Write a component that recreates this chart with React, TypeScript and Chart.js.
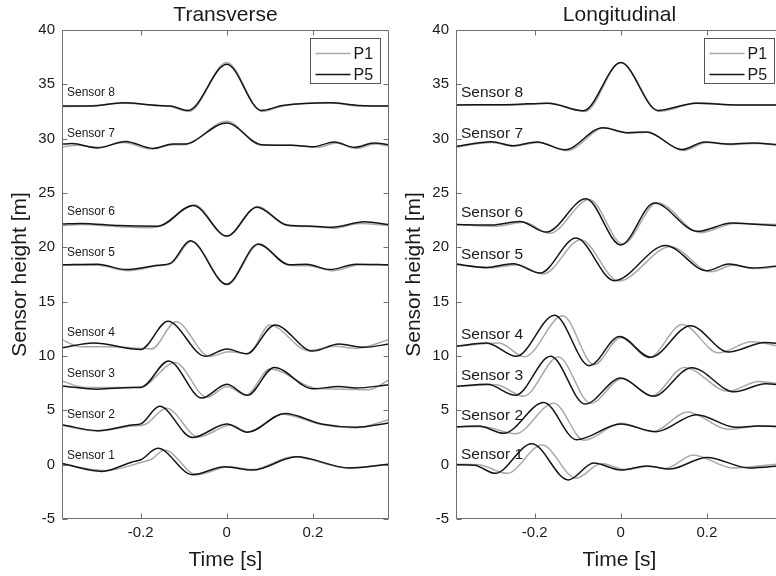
import React, { useEffect, useRef } from 'react';
import { Chart, registerables } from 'chart.js';

Chart.register(...registerables);

type Pt = [number, number];

// ---------- axes / categories ----------
const T_MIN = -0.383;
const T_MAX = 0.377;
const Y_MIN = -5;
const Y_MAX = 40;
const X_TICKS = [-0.2, 0, 0.2];
const Y_TICKS = [-5, 0, 5, 10, 15, 20, 25, 30, 35, 40];
const SERIES = ['P1', 'P5'];
const SERIES_COLORS = ['#a9a9a9', '#151515'];
const SENSOR_NAMES = ['Sensor 1', 'Sensor 2', 'Sensor 3', 'Sensor 4', 'Sensor 5', 'Sensor 6', 'Sensor 7', 'Sensor 8'];
const TRANS_LABEL_Y = [0.8, 4.6, 8.4, 12.1, 19.5, 23.3, 30.5, 34.2];
const LONG_LABEL_Y = [0.9, 4.5, 8.2, 12.0, 19.3, 23.2, 30.45, 34.2];

// ---------- Transverse, P1 ----------
const tS1P1: Pt[] = [[-0.383, 0.05], [-0.28, -0.55], [-0.2, 0.2], [-0.175, 0.5], [-0.145, 1.35], [-0.07, -0.92], [0.005, -0.2], [0.06, -0.45], [0.155, 0.72], [0.28, -0.3], [0.377, 0.05]];
const tS2P1: Pt[] = [[-0.383, 3.6], [-0.3, 3.1], [-0.22, 3.55], [-0.19, 3.7], [-0.14, 5.2], [-0.066, 2.55], [0.01, 3.65], [0.05, 3.0], [0.128, 4.65], [0.22, 3.7], [0.3, 3.4], [0.377, 4.14]];
const tS3P1: Pt[] = [[-0.383, 7.7], [-0.33, 7.1], [-0.26, 7.1], [-0.2, 7.15], [-0.12, 9.4], [-0.046, 6.2], [0, 7.2], [0.045, 6.4], [0.1, 8.8], [0.21, 7.0], [0.27, 6.95], [0.33, 6.9], [0.377, 7.8]];
const tS4P1: Pt[] = [[-0.383, 11.5], [-0.34, 10.85], [-0.27, 10.85], [-0.2, 10.7], [-0.175, 10.65], [-0.118, 13.15], [-0.04, 9.95], [0.005, 10.4], [0.05, 10.2], [0.1, 12.85], [0.19, 10.5], [0.25, 10.9], [0.3, 10.7], [0.377, 11.5]];
const tS5P1: Pt[] = [[-0.383, 18.35], [-0.3, 18.35], [-0.23, 17.85], [-0.16, 18.3], [-0.13, 18.5], [-0.082, 20.55], [0, 16.55], [0.075, 20.25], [0.145, 18.35], [0.19, 18.3], [0.245, 17.85], [0.31, 18.4], [0.377, 18.35]];
const tS6P1: Pt[] = [[-0.383, 22.0], [-0.34, 22.1], [-0.25, 21.9], [-0.19, 21.8], [-0.16, 21.9], [-0.075, 23.9], [0, 21.0], [0.072, 23.75], [0.14, 22.0], [0.2, 21.9], [0.25, 21.75], [0.31, 22.2], [0.377, 22.0]];
const tS7P1: Pt[] = [[-0.383, 29.25], [-0.35, 29.4], [-0.3, 29.2], [-0.24, 29.65], [-0.175, 29.05], [-0.125, 29.45], [-0.1, 29.45], [0, 31.6], [0.08, 29.4], [0.15, 29.4], [0.21, 29.2], [0.255, 29.6], [0.3, 29.1], [0.345, 29.5], [0.377, 29.3]];
const tS8P1: Pt[] = [[-0.383, 32.95], [-0.32, 33.0], [-0.24, 33.25], [-0.16, 33.05], [-0.13, 32.95], [-0.088, 32.5], [0, 37.0], [0.082, 32.5], [0.13, 33.0], [0.24, 33.3], [0.31, 33.0], [0.377, 33.0]];

// ---------- Transverse, P5 ----------
const tS1P5: Pt[] = [[-0.383, 0.1], [-0.29, -0.62], [-0.22, 0.25], [-0.2, 0.45], [-0.16, 1.5], [-0.08, -0.92], [-0.005, -0.2], [0.06, -0.5], [0.162, 0.72], [0.285, -0.3], [0.377, 0.05]];
const tS2P5: Pt[] = [[-0.383, 3.68], [-0.3, 3.13], [-0.22, 3.65], [-0.2, 3.75], [-0.156, 5.37], [-0.08, 2.5], [0, 3.74], [0.048, 2.98], [0.135, 4.7], [0.22, 3.75], [0.3, 3.45], [0.377, 3.84]];
const tS3P5: Pt[] = [[-0.383, 7.25], [-0.3, 6.95], [-0.22, 7.1], [-0.2, 7.1], [-0.135, 9.55], [-0.058, 6.13], [0, 7.4], [0.048, 6.38], [0.11, 8.95], [0.2, 6.98], [0.26, 7.2], [0.3, 7.05], [0.377, 7.35]];
const tS4P5: Pt[] = [[-0.383, 10.75], [-0.31, 11.2], [-0.2, 10.6], [-0.137, 13.2], [-0.05, 9.97], [0, 10.65], [0.046, 10.2], [0.112, 12.85], [0.2, 10.45], [0.26, 11.1], [0.32, 10.8], [0.377, 11.1]];
const tS5P5: Pt[] = [[-0.383, 18.4], [-0.3, 18.45], [-0.235, 17.95], [-0.16, 18.35], [-0.13, 18.55], [-0.085, 20.6], [0, 16.6], [0.073, 20.3], [0.145, 18.4], [0.185, 18.45], [0.24, 17.95], [0.3, 18.45], [0.377, 18.4]];
const tS6P5: Pt[] = [[-0.383, 22.15], [-0.34, 22.2], [-0.25, 22.0], [-0.16, 21.95], [-0.078, 23.85], [0, 21.05], [0.07, 23.7], [0.14, 22.05], [0.2, 21.95], [0.245, 21.85], [0.32, 22.35], [0.377, 22.1]];
const tS7P5: Pt[] = [[-0.383, 29.5], [-0.36, 29.55], [-0.3, 29.15], [-0.235, 29.75], [-0.172, 29.1], [-0.125, 29.5], [-0.1, 29.5], [0, 31.45], [0.08, 29.45], [0.15, 29.4], [0.2, 29.25], [0.25, 29.7], [0.296, 29.2], [0.342, 29.6], [0.377, 29.45]];
const tS8P5: Pt[] = [[-0.383, 33.0], [-0.32, 33.0], [-0.24, 33.3], [-0.16, 33.05], [-0.13, 33.0], [-0.09, 32.6], [0, 36.85], [0.08, 32.6], [0.13, 33.05], [0.24, 33.3], [0.31, 33.05], [0.377, 33.0]];

// ---------- Longitudinal, P1 ----------
const lS1P1: Pt[] = [[-0.383, 0.05], [-0.33, 0.0], [-0.265, -0.8], [-0.183, 1.8], [-0.104, -1.25], [-0.045, 0.1], [0.01, -0.45], [0.065, -0.15], [0.105, -0.35], [0.168, 0.9], [0.26, -0.3], [0.377, 0.1]];
const lS2P1: Pt[] = [[-0.383, 3.5], [-0.32, 3.5], [-0.245, 2.85], [-0.156, 5.65], [-0.085, 2.25], [0, 3.8], [0.075, 3.05], [0.155, 4.85], [0.25, 3.25], [0.32, 3.55], [0.377, 3.55]];
const lS3P1: Pt[] = [[-0.383, 7.2], [-0.29, 7.35], [-0.226, 6.3], [-0.145, 9.9], [-0.07, 5.65], [0.003, 7.9], [0.072, 6.35], [0.148, 8.95], [0.25, 6.75], [0.32, 7.65], [0.377, 7.4]];
const lS4P1: Pt[] = [[-0.383, 10.9], [-0.283, 11.2], [-0.224, 9.93], [-0.135, 13.7], [-0.062, 9.2], [0, 11.7], [0.065, 9.85], [0.143, 12.9], [0.227, 10.3], [0.304, 11.3], [0.377, 10.8]];
const lS5P1: Pt[] = [[-0.383, 18.4], [-0.305, 18.1], [-0.24, 18.4], [-0.18, 17.55], [-0.093, 20.7], [-0.005, 16.9], [0.115, 20.05], [0.21, 17.75], [0.26, 18.35], [0.315, 18.05], [0.377, 18.3]];
const lS6P1: Pt[] = [[-0.383, 22.1], [-0.29, 21.95], [-0.225, 22.3], [-0.165, 21.3], [-0.073, 24.4], [0.005, 20.3], [0.085, 24.1], [0.185, 21.35], [0.265, 22.2], [0.32, 22.15], [0.377, 22.1]];
const lS7P1: Pt[] = [[-0.383, 29.2], [-0.3, 29.65], [-0.25, 29.3], [-0.19, 29.65], [-0.125, 28.9], [-0.038, 31.0], [0.018, 30.5], [0.062, 30.6], [0.145, 28.9], [0.2, 29.65], [0.255, 29.45], [0.31, 29.55], [0.377, 29.35]];
const lS8P1: Pt[] = [[-0.383, 33.1], [-0.25, 33.1], [-0.165, 33.25], [-0.083, 32.5], [0, 37.0], [0.09, 32.5], [0.18, 33.3], [0.27, 33.1], [0.377, 33.1]];

// ---------- Longitudinal, P5 ----------
const lS1P5: Pt[] = [[-0.383, 0.0], [-0.34, -0.05], [-0.292, -0.8], [-0.207, 1.93], [-0.122, -1.4], [-0.063, 0.15], [0, -0.5], [0.06, -0.12], [0.113, -0.4], [0.2, 0.67], [0.298, -0.3], [0.377, -0.07]];
const lS2P5: Pt[] = [[-0.383, 3.5], [-0.33, 3.55], [-0.272, 2.88], [-0.179, 5.72], [-0.103, 2.3], [0, 3.74], [0.082, 3.03], [0.176, 4.6], [0.266, 3.45], [0.32, 3.55], [0.377, 3.5]];
const lS3P5: Pt[] = [[-0.383, 7.2], [-0.31, 7.4], [-0.245, 6.38], [-0.163, 9.97], [-0.083, 5.58], [0, 7.97], [0.075, 6.29], [0.165, 8.93], [0.264, 6.7], [0.337, 7.45], [0.377, 7.3]];
const lS4P5: Pt[] = [[-0.383, 10.9], [-0.312, 11.2], [-0.243, 9.97], [-0.154, 13.74], [-0.073, 9.11], [-0.003, 11.8], [0.069, 9.88], [0.162, 12.79], [0.25, 10.37], [0.335, 11.25], [0.377, 11.1]];
const lS5P5: Pt[] = [[-0.383, 18.46], [-0.312, 18.15], [-0.25, 18.5], [-0.188, 17.63], [-0.104, 20.85], [-0.015, 16.93], [0.104, 20.17], [0.2, 17.85], [0.251, 18.46], [0.305, 18.1], [0.377, 18.35]];
const lS6P5: Pt[] = [[-0.383, 22.1], [-0.3, 22.05], [-0.235, 22.38], [-0.173, 21.4], [-0.081, 24.47], [0, 20.22], [0.078, 24.07], [0.178, 21.47], [0.258, 22.24], [0.32, 22.1], [0.377, 21.95]];
const lS7P5: Pt[] = [[-0.383, 29.3], [-0.3, 29.72], [-0.25, 29.35], [-0.195, 29.7], [-0.13, 28.98], [-0.042, 31.0], [0.015, 30.55], [0.06, 30.62], [0.142, 29.0], [0.195, 29.7], [0.25, 29.5], [0.305, 29.6], [0.377, 29.4]];
const lS8P5: Pt[] = [[-0.383, 33.1], [-0.25, 33.15], [-0.17, 33.27], [-0.087, 32.57], [0, 37.0], [0.086, 32.6], [0.175, 33.27], [0.27, 33.1], [0.377, 33.1]];

const TRANS_P1 = [tS1P1, tS2P1, tS3P1, tS4P1, tS5P1, tS6P1, tS7P1, tS8P1];
const TRANS_P5 = [tS1P5, tS2P5, tS3P5, tS4P5, tS5P5, tS6P5, tS7P5, tS8P5];
const LONG_P1 = [lS1P1, lS2P1, lS3P1, lS4P1, lS5P1, lS6P1, lS7P1, lS8P1];
const LONG_P5 = [lS1P5, lS2P5, lS3P5, lS4P5, lS5P5, lS6P5, lS7P5, lS8P5];

// ---------- styling ----------
const FONT = '"Liberation Sans", Arial, Helvetica, sans-serif';
const AXIS_COLOR = '#6e6e6e';
const TEXT_COLOR = '#1a1a1a';
const CANVAS_W = 392;
const CANVAS_H = 576;

type PanelProps = {
  title: string;
  p1: Pt[][];
  p5: Pt[][];
  labelY: number[];
  labelFont: number;
  left: number;
};

function Panel({ title, p1, p5, labelY, labelFont, left }: PanelProps) {
  const ref = useRef<HTMLCanvasElement | null>(null);

  useEffect(() => {
    const canvas = ref.current;
    if (!canvas) return;

    const datasets: any[] = [];
    p5.forEach((pts, i) => {
      datasets.push({
        label: SERIES[1] + ' ' + SENSOR_NAMES[i],
        data: pts.map(([x, y]) => ({ x, y })),
        borderColor: SERIES_COLORS[1],
        borderWidth: 1.5,
        order: 0,
      });
    });
    p1.forEach((pts, i) => {
      datasets.push({
        label: SERIES[0] + ' ' + SENSOR_NAMES[i],
        data: pts.map(([x, y]) => ({ x, y })),
        borderColor: SERIES_COLORS[0],
        borderWidth: 1.5,
        order: 1,
      });
    });

    const decor = {
      id: 'decor',
      beforeDatasetsDraw(chart: any) {
        const { ctx, chartArea, scales } = chart;
        ctx.save();
        ctx.fillStyle = TEXT_COLOR;
        ctx.font = `${labelFont}px ${FONT}`;
        ctx.textAlign = 'left';
        ctx.textBaseline = 'middle';
        SENSOR_NAMES.forEach((name, i) => {
          ctx.fillText(name, chartArea.left + 5, scales.y.getPixelForValue(labelY[i]));
        });
        ctx.restore();
      },
      afterDatasetsDraw(chart: any) {
        const { ctx, chartArea, scales } = chart;
        const l = Math.round(chartArea.left) + 0.5;
        const r = Math.round(chartArea.right) - 0.5;
        const t = Math.round(chartArea.top) + 0.5;
        const b = Math.round(chartArea.bottom) - 0.5;
        const tl = 5;
        ctx.save();
        ctx.strokeStyle = AXIS_COLOR;
        ctx.lineWidth = 1;
        ctx.beginPath();
        ctx.rect(l, t, r - l, b - t);
        X_TICKS.forEach((v) => {
          const px = Math.round(scales.x.getPixelForValue(v)) + 0.5;
          ctx.moveTo(px, b);
          ctx.lineTo(px, b - tl);
          ctx.moveTo(px, t);
          ctx.lineTo(px, t + tl);
        });
        Y_TICKS.forEach((v) => {
          const py = Math.round(scales.y.getPixelForValue(v)) + 0.5;
          ctx.moveTo(l, py);
          ctx.lineTo(l + tl, py);
          ctx.moveTo(r, py);
          ctx.lineTo(r - tl, py);
        });
        ctx.stroke();
        ctx.restore();
      },
      afterDraw(chart: any) {
        const { ctx, chartArea } = chart;
        ctx.save();
        // title
        ctx.fillStyle = TEXT_COLOR;
        ctx.font = `21px ${FONT}`;
        ctx.textAlign = 'center';
        ctx.textBaseline = 'middle';
        ctx.fillText(title, (chartArea.left + chartArea.right) / 2, 15);
        // legend
        const bx = Math.round(chartArea.right) - 79 + 0.5;
        const by = Math.round(chartArea.top) + 8 + 0.5;
        ctx.fillStyle = '#ffffff';
        ctx.fillRect(bx, by, 70, 45);
        ctx.strokeStyle = '#555555';
        ctx.lineWidth = 1;
        ctx.strokeRect(bx, by, 70, 45);
        SERIES.forEach((s, i) => {
          const y = by + 15 + i * 21;
          ctx.strokeStyle = SERIES_COLORS[i];
          ctx.lineWidth = 1.5;
          ctx.beginPath();
          ctx.moveTo(bx + 5, y);
          ctx.lineTo(bx + 40, y);
          ctx.stroke();
          ctx.fillStyle = TEXT_COLOR;
          ctx.font = `16px ${FONT}`;
          ctx.textAlign = 'left';
          ctx.textBaseline = 'middle';
          ctx.fillText(s, bx + 43, y + 1);
        });
        ctx.restore();
      },
    };

    const chart = new Chart(canvas, {
      type: 'line',
      data: { datasets },
      options: {
        responsive: false,
        animation: false,
        devicePixelRatio: 1,
        layout: { padding: { top: 30, right: 3, left: 0, bottom: 0 } },
        plugins: {
          legend: { display: false },
          tooltip: { enabled: false },
          title: { display: false },
        },
        elements: {
          point: { radius: 0 },
          line: { cubicInterpolationMode: 'monotone', borderWidth: 1.5 },
        },
        scales: {
          x: {
            type: 'linear',
            min: T_MIN,
            max: T_MAX,
            afterBuildTicks: (s: any) => {
              s.ticks = X_TICKS.map((v) => ({ value: v }));
            },
            afterFit: (s: any) => {
              s.height = 57;
            },
            grid: { display: false, drawTicks: false },
            border: { display: false },
            ticks: {
              padding: 5,
              maxRotation: 0,
              autoSkip: false,
              color: TEXT_COLOR,
              font: { size: 15, family: FONT },
              callback: (v: any) => String(v),
            },
            title: {
              display: true,
              text: 'Time [s]',
              color: TEXT_COLOR,
              font: { size: 21, family: FONT },
              padding: { top: 0, bottom: 3.4 },
            },
          },
          y: {
            type: 'linear',
            min: Y_MIN,
            max: Y_MAX,
            afterBuildTicks: (s: any) => {
              s.ticks = Y_TICKS.map((v) => ({ value: v }));
            },
            afterFit: (s: any) => {
              s.width = 62;
            },
            grid: { display: false, drawTicks: false },
            border: { display: false },
            ticks: {
              padding: 7,
              autoSkip: false,
              color: TEXT_COLOR,
              font: { size: 15, family: FONT },
              callback: (v: any) => String(v),
            },
            title: {
              display: true,
              text: 'Sensor height [m]',
              color: TEXT_COLOR,
              font: { size: 21, family: FONT },
              padding: { top: 7.4, bottom: 0 },
            },
          },
        },
      } as any,
      plugins: [decor],
    });

    return () => chart.destroy();
  }, [title, p1, p5, labelY, labelFont]);

  return (
    <canvas
      ref={ref}
      width={CANVAS_W}
      height={CANVAS_H}
      style={{ position: 'absolute', left, top: 0, width: CANVAS_W, height: CANVAS_H }}
    />
  );
}

export default function App() {
  return (
    <div
      style={{
        position: 'fixed',
        left: 0,
        top: 0,
        width: 776,
        height: 576,
        overflow: 'hidden',
        background: '#ffffff',
      }}
    >
      <Panel title="Transverse" p1={TRANS_P1} p5={TRANS_P5} labelY={TRANS_LABEL_Y} labelFont={12} left={0} />
      <Panel title="Longitudinal" p1={LONG_P1} p5={LONG_P5} labelY={LONG_LABEL_Y} labelFont={15.5} left={394} />
    </div>
  );
}
